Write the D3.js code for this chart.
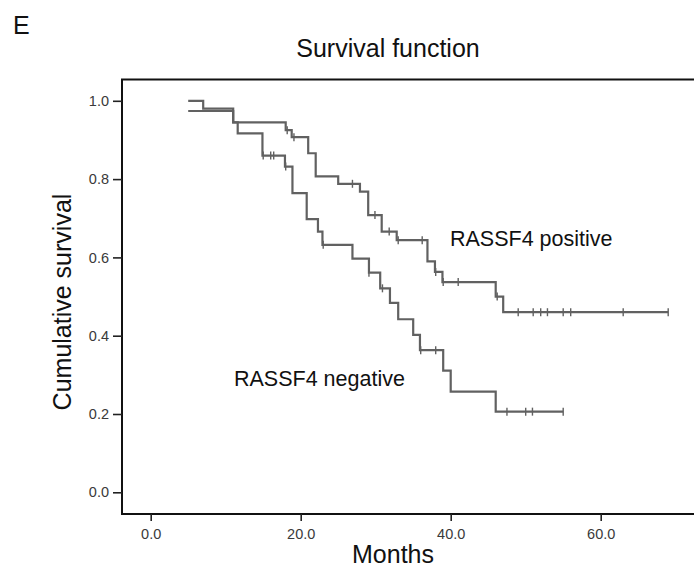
<!DOCTYPE html>
<html>
<head>
<meta charset="utf-8">
<script src="https://cdn.jsdelivr.net/npm/d3@7"></script>
<style>
  html, body { margin: 0; padding: 0; background: #fff; }
  svg { display: block; }
  text { font-family: "Liberation Sans", Arial, Helvetica, sans-serif; }
</style>
</head>
<body>
<script>
// ---- Data ----
const xTicks = [0, 20, 40, 60];
const yTicks = [0.0, 0.2, 0.4, 0.6, 0.8, 1.0];

// RASSF4 positive: step times and survival after each step
const posTimes = [5, 7, 11, 18, 18.8, 21, 22, 25, 27.9, 29, 30.8, 32.8, 36.9, 37.9, 38.9, 46, 47, 69];
const posSurv  = [1.0, 0.98, 0.945, 0.925, 0.907, 0.866, 0.807, 0.788, 0.768, 0.708, 0.666, 0.644, 0.59, 0.563, 0.537, 0.5, 0.46, 0.46];
const posCensored = [18.2, 19.1, 26.9, 29.9, 31.8, 33.0, 36.2, 38.0, 39.0, 41.0, 46.2, 49.0, 51.0, 52.0, 52.9, 55.0, 56.0, 63.0, 69.0];

// RASSF4 negative
const negTimes = [5, 11, 11.6, 14.9, 17.9, 18.9, 20.8, 22.3, 22.9, 26.9, 29.1, 30.6, 31.9, 33.0, 35.0, 35.9, 39.0, 40.0, 46.0, 55.0];
const negSurv  = [0.974, 0.945, 0.917, 0.86, 0.832, 0.764, 0.698, 0.666, 0.632, 0.597, 0.561, 0.521, 0.484, 0.442, 0.402, 0.363, 0.311, 0.257, 0.206, 0.206];
const negCensored = [15.0, 16.0, 16.4, 18.0, 23.0, 29.1, 30.9, 36.0, 38.0, 47.5, 50.0, 50.9, 55.0];

const seriesNames = ["RASSF4 positive", "RASSF4 negative"];

// ---- Drawing ----
const W = 694, H = 571;
const svg = d3.select("body").append("svg").attr("width", W).attr("height", H);

const x = d3.scaleLinear().domain([0, 60]).range([150.7, 600.7]);
const y = d3.scaleLinear().domain([0, 1]).range([492.3, 100.8]);

const frameLeft = 122, frameTop = 79.5, frameBottom = 514, frameRight = 700;
const lineColor = "#616161";

// frame: left, top, bottom
svg.append("path")
  .attr("d", `M${frameRight},${frameTop}H${frameLeft}V${frameBottom}H${frameRight}`)
  .attr("fill", "none").attr("stroke", "#111").attr("stroke-width", 2);

// y axis
const yAxis = svg.append("g").attr("transform", `translate(${frameLeft},0)`)
  .call(d3.axisLeft(y).tickValues(yTicks).tickFormat(d3.format(".1f")).tickSize(9).tickPadding(4));
yAxis.select(".domain").remove();
yAxis.selectAll("line").attr("stroke", "#222").attr("stroke-width", 1.6);
yAxis.selectAll("text").attr("font-size", 14.5).attr("fill", "#3a3a3a")
  .style("font-family", "'Liberation Sans', Arial, sans-serif");

// x axis
const xAxis = svg.append("g").attr("transform", `translate(0,${frameBottom})`)
  .call(d3.axisBottom(x).tickValues(xTicks).tickFormat(d3.format(".1f")).tickSize(7).tickPadding(8));
xAxis.select(".domain").remove();
xAxis.selectAll("line").attr("stroke", "#222").attr("stroke-width", 1.6);
xAxis.selectAll("text").attr("font-size", 14.5).attr("fill", "#3a3a3a")
  .style("font-family", "'Liberation Sans', Arial, sans-serif");

// step curves
const stepLine = d3.line().x(d => x(d[0])).y(d => y(d[1])).curve(d3.curveStepAfter);
function drawSeries(times, surv, cens) {
  const pts = times.map((t, i) => [t, surv[i]]);
  svg.append("path").attr("d", stepLine(pts))
    .attr("fill", "none").attr("stroke", lineColor).attr("stroke-width", 2.2);
  const survAt = t => {
    let s = surv[0];
    for (let i = 0; i < times.length; i++) if (times[i] <= t) s = surv[i];
    return s;
  };
  svg.append("g").selectAll("line").data(cens).join("line")
    .attr("x1", d => x(d)).attr("x2", d => x(d))
    .attr("y1", d => y(survAt(d)) - 4).attr("y2", d => y(survAt(d)) + 4)
    .attr("stroke", lineColor).attr("stroke-width", 1.4);
}
drawSeries(posTimes, posSurv, posCensored);
drawSeries(negTimes, negSurv, negCensored);

// texts
svg.append("text").attr("x", 13).attr("y", 34).attr("font-size", 25).attr("fill", "#111").text("E");
svg.append("text").attr("x", 388).attr("y", 57).attr("text-anchor", "middle")
  .attr("font-size", 25).attr("fill", "#111").text("Survival function");
svg.append("text").attr("x", 393).attr("y", 563).attr("text-anchor", "middle")
  .attr("font-size", 25).attr("fill", "#111").text("Months");
svg.append("text").attr("transform", "translate(71,302) rotate(-90)").attr("text-anchor", "middle")
  .attr("font-size", 25).attr("fill", "#111").text("Cumulative survival");

svg.append("text").attr("x", 450).attr("y", 246).attr("font-size", 21.5).attr("fill", "#111")
  .text(seriesNames[0]);
svg.append("text").attr("x", 234).attr("y", 386).attr("font-size", 21.5).attr("fill", "#111")
  .text(seriesNames[1]);
</script>
</body>
</html>
